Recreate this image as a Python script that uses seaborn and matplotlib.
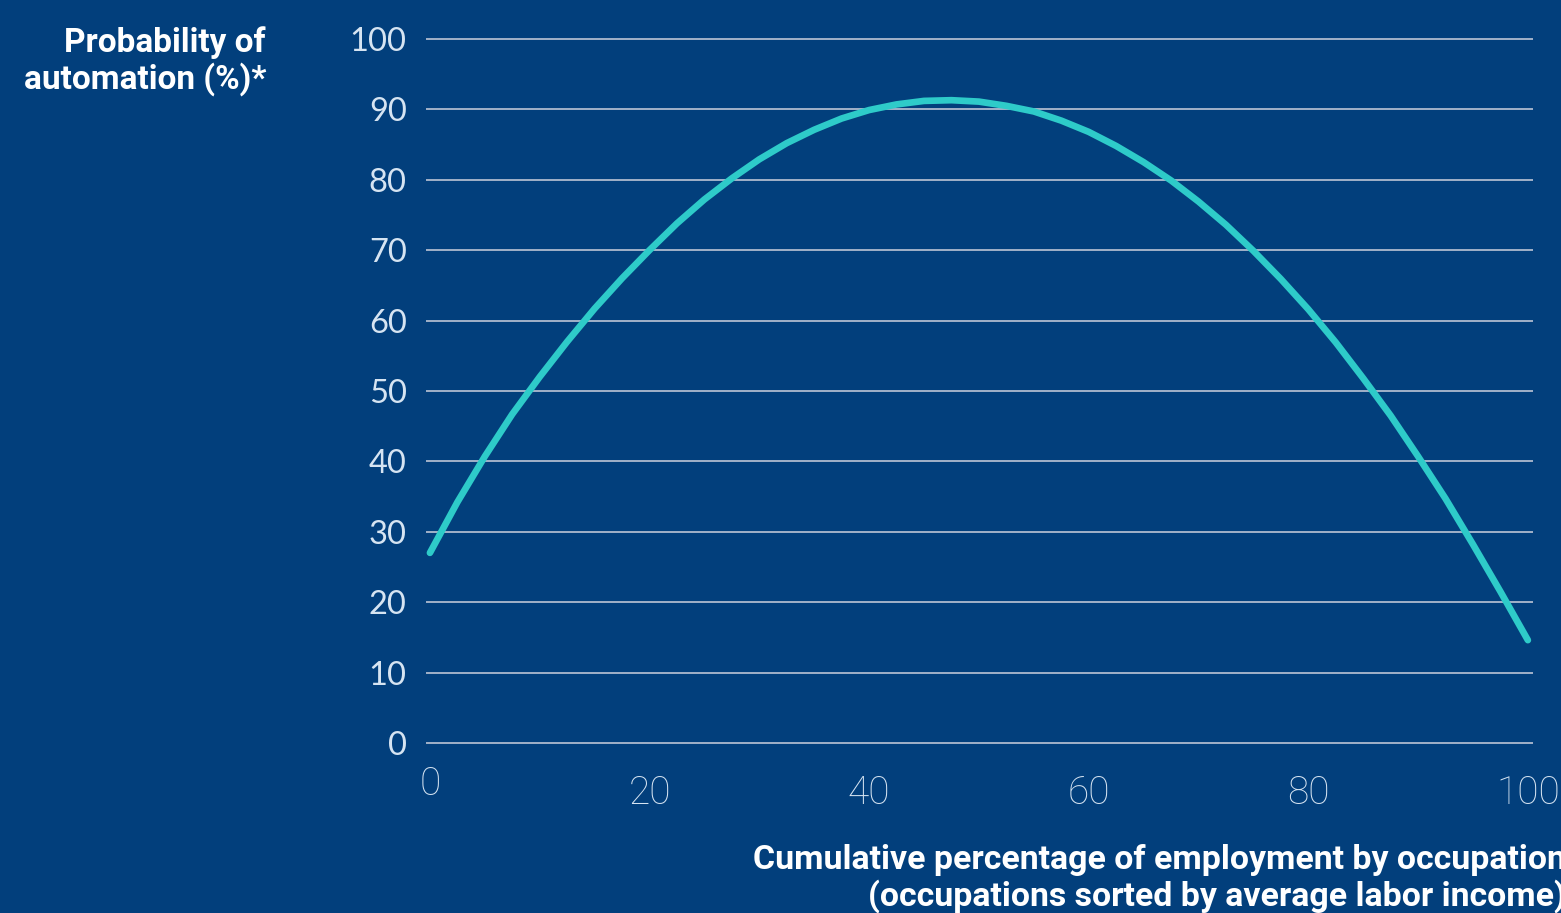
import matplotlib
matplotlib.use("Agg")
import matplotlib.pyplot as plt
import matplotlib.transforms as mtransforms
import seaborn as sns
import pandas as pd

# Cumulative share of employment (occupations sorted by average labor income)
employment_pct = [0, 2.5, 5, 7.5, 10, 12.5, 15, 17.5, 20, 22.5, 25, 27.5, 30,
                  32.5, 35, 37.5, 40, 42.5, 45, 47.5, 50, 52.5, 55, 57.5, 60,
                  62.5, 65, 67.5, 70, 72.5, 75, 77.5, 80, 82.5, 85, 87.5, 90,
                  92.5, 95, 97.5, 100]
# Probability of automation (%)
automation_prob = [27.0, 34.2, 40.7, 46.7, 52.0, 57.0, 61.7, 66.0, 70.0, 73.8,
                   77.2, 80.2, 82.9, 85.2, 87.1, 88.7, 89.9, 90.7, 91.2, 91.3,
                   91.1, 90.5, 89.7, 88.4, 86.8, 84.8, 82.5, 79.9, 76.9, 73.6,
                   69.9, 65.9, 61.6, 56.9, 51.8, 46.5, 40.7, 34.7, 28.2, 21.5,
                   14.6]

x_ticks = [0, 20, 40, 60, 80, 100]
y_ticks = list(range(0, 101, 10))

BG = "#023F7C"
CURVE = "#2ECBC9"
TICK_COLOR = "#D6E4F2"

sns.set_theme(style="white")
plt.rcParams["font.family"] = ["Lato", "DejaVu Sans"]

fig = plt.figure(figsize=(15.61, 9.13), dpi=100, facecolor=BG)
ax = fig.add_axes([0.2726, 0.1824, 0.7097, 0.7788])
ax.set_facecolor(BG)

df = pd.DataFrame({"employment": employment_pct, "automation": automation_prob})
sns.lineplot(data=df, x="employment", y="automation", ax=ax, color=CURVE,
             linewidth=4.8, solid_capstyle="round", solid_joinstyle="round",
             sort=False, zorder=3)

ax.set_xlim(-0.4, 100.5)
ax.set_ylim(-0.5, 100.5)
ax.set_xticks(x_ticks)
ax.set_yticks(y_ticks)
ax.set_xlabel("")
ax.set_ylabel("")
for s in ax.spines.values():
    s.set_visible(False)

ax.yaxis.grid(True, color="#AEBACE", linewidth=1.3, zorder=1)
ax.xaxis.grid(False)

ax.tick_params(axis="y", length=0, pad=13.5, labelsize=23.5, labelcolor=TICK_COLOR)
ax.tick_params(axis="x", length=0, pad=20, labelsize=28, labelcolor=TICK_COLOR)
for lab in ax.get_yticklabels():
    lab.set_fontweight("normal")
for lab in ax.get_xticklabels():
    lab.set_family(["Roboto", "DejaVu Sans"])
    lab.set_fontweight("light")

# the origin label sits a little higher than the other x labels
t0 = ax.xaxis.get_major_ticks()[0]
t0.label1.set_transform(t0.label1.get_transform()
                        + mtransforms.ScaledTranslation(0, 0.09, fig.dpi_scale_trans))

fig.text(266 / 1561, 1 - 61 / 913, "Probability of\nautomation (%)*",
         ha="right", va="center", color="white", fontsize=24,
         fontweight="bold", linespacing=1.1,
         family=["Roboto", "DejaVu Sans"])

fig.text(1566 / 1561, 1 - 878.5 / 913,
         "Cumulative percentage of employment by occupation\n"
         "(occupations sorted by average labor income)",
         ha="right", va="center", color="white", fontsize=24.4,
         fontweight="bold", linespacing=1.13, multialignment="right",
         family=["Roboto", "DejaVu Sans"])

fig.savefig("out.png", dpi=100, facecolor=BG)
